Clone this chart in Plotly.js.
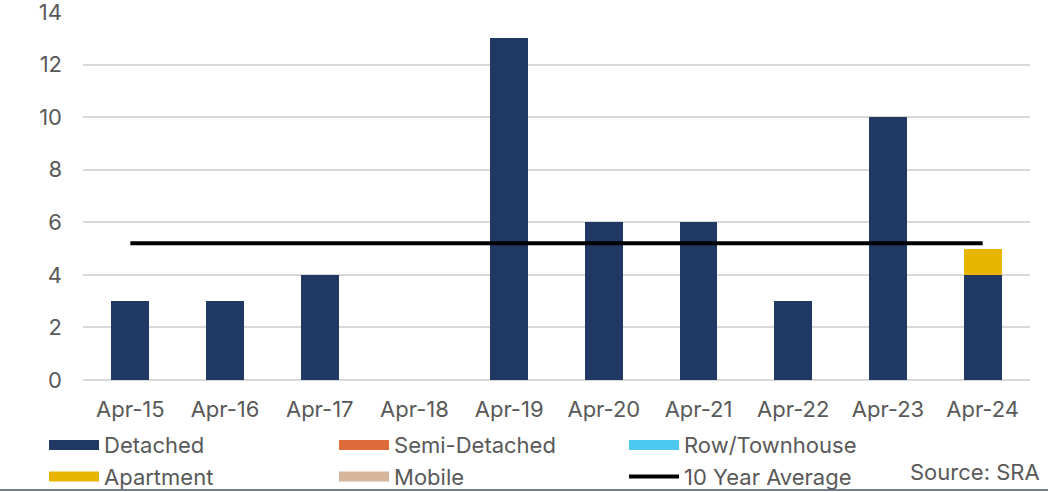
<!DOCTYPE html>
<html><head><meta charset="utf-8">
<script src="https://cdn.plot.ly/plotly-3.0.1.min.js"></script>
<style>html,body{margin:0;padding:0;background:#fff}#chart{width:1048px;height:492px}</style>
</head><body><div id="chart"></div>
<script>
const categories = ["Apr-15","Apr-16","Apr-17","Apr-18","Apr-19","Apr-20","Apr-21","Apr-22","Apr-23","Apr-24"];
const detached = [3,3,4,0,13,6,6,3,10,4];
const semiDetached = [0,0,0,0,0,0,0,0,0,0];
const rowTownhouse = [0,0,0,0,0,0,0,0,0,0];
const apartment = [0,0,0,0,0,0,0,0,0,1];
const mobile = [0,0,0,0,0,0,0,0,0,0];
const tenYearAverage = [5.2,5.2,5.2,5.2,5.2,5.2,5.2,5.2,5.2,5.2];
const seriesNames = ["Detached","Semi-Detached","Row/Townhouse","Apartment","Mobile"];
const seriesColors = ["#203864","#DD6B39","#4DC8F0","#E8B600","#D5B59B"];
const seriesValues = [detached, semiDetached, rowTownhouse, apartment, mobile];
const yTicks = [0,2,4,6,8,10,12,14];

const FONT = "Inter, 'Open Sans', sans-serif";
const FS = 22;
const traces = [];
seriesValues.forEach((vals, i) => {
  traces.push({type:'bar', x:categories, y:vals, name:seriesNames[i],
    marker:{color:seriesColors[i]}, showlegend:false, legendgroup:seriesNames[i], hoverinfo:'x+y+name'});
});
traces.push({type:'scatter', mode:'lines', x:categories, y:tenYearAverage, name:'10 Year Average',
  line:{color:'#000', width:4}, showlegend:false, legendgroup:'avg'});
seriesNames.forEach((nm, i) => {
  traces.push({type:'scatter', mode:'lines', x:[null], y:[null], name:nm,
    line:{color:seriesColors[i], width:13}, legendgroup:nm, showlegend:true, hoverinfo:'skip'});
});
traces.push({type:'scatter', mode:'lines', x:[null], y:[null], name:'10 Year Average',
  line:{color:'#000', width:4}, legendgroup:'avg', showlegend:true, hoverinfo:'skip'});

const layout = {
  width:1048, height:492,
  margin:{l:83, r:18, t:11.5, b:111.5, autoexpand:false},
  paper_bgcolor:'#fff', plot_bgcolor:'#fff',
  barmode:'stack', bargap:0.6,
  font:{family:FONT, size:FS, color:'#595959'},
  xaxis:{type:'category', tickfont:{size:FS, color:'#595959'}, showgrid:false, zeroline:false,
    showline:false, ticks:'', ticklabelstandoff:14},
  yaxis:{range:[0,14], tickvals:yTicks, showgrid:true, gridcolor:'#D9D9D9', gridwidth:1.5,
    zeroline:true, zerolinecolor:'#D9D9D9', zerolinewidth:1.5, ticks:'', ticklabelstandoff:20,
    ticklabeloverflow:'allow', tickfont:{size:FS, color:'#595959'}},
  showlegend:true,
  legend:{orientation:'h', xref:'container', yref:'container', x:0.042, xanchor:'left',
    y:0.138, yanchor:'top', entrywidth:225, entrywidthmode:'pixels', itemwidth:50,
    font:{size:FS, color:'#595959'}, traceorder:'normal', tracegroupgap:0, bgcolor:'rgba(0,0,0,0)'},
  annotations:[{text:'Source: SRA', xref:'paper', yref:'paper', x:1.013, xanchor:'right',
    y:-0.25, yanchor:'middle', showarrow:false, font:{size:FS, color:'#595959'}}],
  shapes:[{type:'line', xref:'paper', yref:'paper', x0:-0.1, x1:1.1, y0:-0.299, y1:-0.299,
    line:{color:'#44546A', width:1.5}}]
};
Plotly.newPlot('chart', traces, layout, {displayModeBar:false, responsive:false});
</script></body></html>
